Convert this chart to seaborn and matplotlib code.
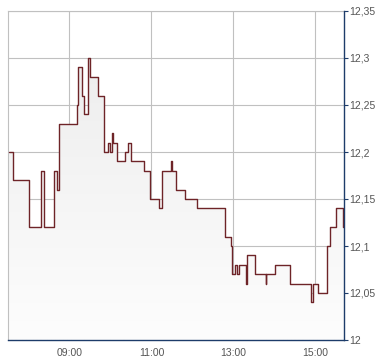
import numpy as np
import pandas as pd
import matplotlib
matplotlib.use("Agg")
import matplotlib.pyplot as plt
import seaborn as sns
from matplotlib.ticker import FixedLocator, FuncFormatter

# minutes since midnight, value at which the price changes (step 'post')
minutes = [451, 458, 481, 498, 502, 517, 522, 525, 551, 553, 558, 562, 567, 570,
           582, 590, 597, 600, 603, 604, 610, 622, 625, 630, 649, 658, 671, 676,
           688, 690, 696, 709, 727, 768, 776, 778, 783, 786, 788, 799, 799.5,
           812, 828, 828.5, 841, 863, 894, 897, 904, 917, 922, 930, 941, 941.5]
prices = [12.20, 12.17, 12.12, 12.18, 12.12, 12.18, 12.16, 12.23, 12.25, 12.29,
          12.26, 12.24, 12.30, 12.28, 12.26, 12.20, 12.21, 12.20, 12.22, 12.21,
          12.19, 12.20, 12.21, 12.19, 12.18, 12.15, 12.14, 12.18, 12.19, 12.18,
          12.16, 12.15, 12.14, 12.11, 12.10, 12.07, 12.08, 12.07, 12.08, 12.06,
          12.09, 12.07, 12.06, 12.07, 12.08, 12.06, 12.04, 12.06, 12.05, 12.10,
          12.12, 12.14, 12.12, 12.12]
x_ticks = [540, 660, 780, 900]
x_labels = ["09:00", "11:00", "13:00", "15:00"]
y_ticks = [12.0, 12.05, 12.1, 12.15, 12.2, 12.25, 12.3, 12.35]
x_min, x_max = 450, 942
y_min, y_max = 12.0, 12.35

df = pd.DataFrame({"minute": minutes, "price": prices})

sns.set_style("white")
plt.rcParams["font.family"] = ["Liberation Sans", "DejaVu Sans"]

W, H = 390, 364
fig = plt.figure(figsize=(W / 100, H / 100), dpi=100)
ax = fig.add_axes([8 / W, (H - 340) / H, (344 - 8) / W, (340 - 11) / H])

# gradient fill under the step line
fill = ax.fill_between(df["minute"], df["price"], y_min, step="post",
                       color="none", linewidth=0)
grad = np.linspace(0, 1, 256).reshape(-1, 1)
cmap = matplotlib.colors.LinearSegmentedColormap.from_list(
    "g", ["#ebebeb", "#fdfdfd"])
im = ax.imshow(grad, cmap=cmap, aspect="auto",
               extent=[x_min, x_max, y_min, y_max], origin="upper", zorder=1)
im.set_clip_path(fill.get_paths()[0], transform=ax.transData)

sns.lineplot(data=df, x="minute", y="price", ax=ax, drawstyle="steps-post",
             estimator=None, sort=False, color="#6e2428", linewidth=1.0,
             zorder=3)

ax.set_xlim(x_min, x_max)
ax.set_ylim(y_min, y_max)
ax.set_xlabel("")
ax.set_ylabel("")

ax.xaxis.set_major_locator(FixedLocator(x_ticks))
ax.set_xticklabels(x_labels)
ax.yaxis.set_major_locator(FixedLocator(y_ticks))
ax.yaxis.set_major_formatter(FuncFormatter(
    lambda v, p: ("%g" % round(v, 2)).replace(".", ",")))
ax.yaxis.tick_right()

ax.grid(True, color="#c0c0c0", linewidth=0.8, zorder=0)
ax.set_axisbelow(True)

for s in ["left", "top"]:
    ax.spines[s].set_color("#c0c0c0")
    ax.spines[s].set_linewidth(0.8)
for s in ["right", "bottom"]:
    ax.spines[s].set_color("#1d3c6a")
    ax.spines[s].set_linewidth(1.0)
    ax.spines[s].set_zorder(5)

ax.tick_params(axis="y", which="both", direction="out", length=3, width=0.8,
               color="#1d3c6a", labelsize=7.5, labelcolor="#555555", pad=1,
               right=True, left=False)
ax.tick_params(axis="x", direction="out", length=4, width=0.8,
               color="#b0b0b0", labelsize=7.5, labelcolor="#555555", pad=2)

fig.savefig("out.png", dpi=100)
